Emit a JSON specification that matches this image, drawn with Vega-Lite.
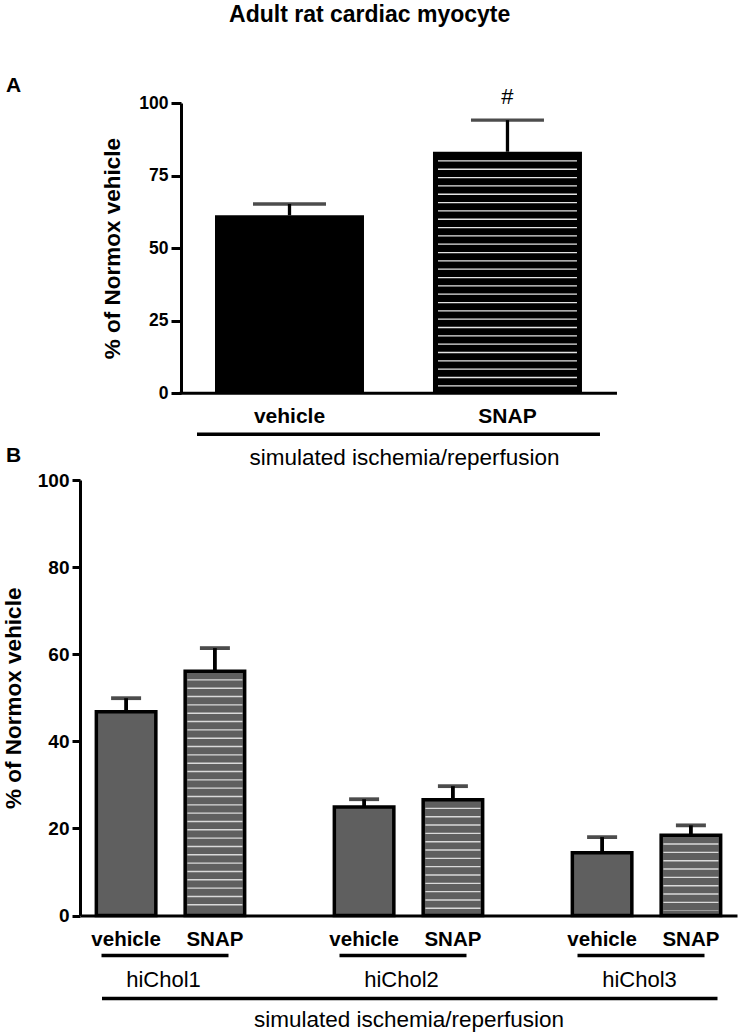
{
  "$schema": "https://vega.github.io/schema/vega-lite/v6.json",
  "padding": {"left": 2, "top": 4, "right": 2, "bottom": 2},
  "background": "white",
  "title": {"text": "Adult rat cardiac myocyte", "fontSize": 23, "fontWeight": "bold", "font": "Liberation Sans", "anchor": "middle", "color": "black", "offset": 48},
  "config": {
    "view": {"stroke": null},
    "font": "Liberation Sans",
    "axis": {"domainColor": "black", "domainWidth": 3, "tickColor": "black", "tickWidth": 3, "tickSize": 8, "labelColor": "black", "titleColor": "black", "labelFont": "Liberation Sans", "titleFont": "Liberation Sans", "grid": false}
  },
  "columns": 1,
  "spacing": -24,
  "concat": [
    {
      "width": 537,
      "height": 290.3,
      "title": {"text": "A", "anchor": "start", "frame": "group", "dx": -74, "offset": -27, "baseline": "alphabetic", "fontSize": 21, "fontWeight": "bold", "color": "black"},
      "data": {"values": [
        {"trt": "vehicle", "mean": 61.3, "upper": 65.2, "hatch": "no", "sig": ""},
        {"trt": "SNAP", "mean": 83.2, "upper": 94.1, "hatch": "yes", "sig": "#"}
      ]},
      "layer": [
        {
          "mark": {"type": "bar", "color": "black"},
          "encoding": {
            "x": {"field": "trt", "type": "nominal", "scale": {"domain": ["vehicle", "SNAP"], "paddingInner": 0.3165, "paddingOuter": 0.39, "align": 0.794},
              "axis": {"title": "simulated ischemia/reperfusion", "domain": false, "labelAngle": 0, "ticks": false, "tickSize": 0, "labelFontSize": 21, "labelFontWeight": "bold", "labelPadding": 12, "titleFontSize": 22.5, "titleFontWeight": "normal", "titlePadding": 20, "titleX": 324, "titleAlign": "center"}},
            "y": {"field": "mean", "type": "quantitative", "scale": {"domain": [0, 100]},
              "axis": {"offset": -101, "values": [0, 25, 50, 75, 100], "tickSize": 10, "title": "% of Normox vehicle", "titleFontSize": 22.5, "titleFontWeight": "bold", "labelFontSize": 17.5, "labelFontWeight": "bold", "titlePadding": 14, "labelPadding": 3}}
          }
        },
        {
          "transform": [{"filter": "datum.trt == 'vehicle'"}],
          "mark": {"type": "rule", "strokeWidth": 3, "color": "black", "xOffset": -110, "x2Offset": 109.5},
          "encoding": {
            "x": {"datum": "vehicle"},
            "x2": {"datum": "SNAP"},
            "y": {"datum": 0, "type": "quantitative"}
          }
        },
        {
          "transform": [{"filter": "datum.hatch == 'yes'"}],
          "mark": {"type": "rule", "strokeWidth": 139, "color": "#e4e4e4", "strokeDash": [1.3, 7.03], "yOffset": 8.5, "y2Offset": -6},
          "encoding": {
            "x": {"field": "trt", "type": "nominal"},
            "y": {"field": "mean", "type": "quantitative"},
            "y2": {"datum": 0}
          }
        },
        {
          "mark": {"type": "rule", "strokeWidth": 3.3, "color": "black"},
          "encoding": {
            "x": {"field": "trt", "type": "nominal"},
            "y": {"field": "mean", "type": "quantitative"},
            "y2": {"field": "upper"}
          }
        },
        {
          "mark": {"type": "tick", "size": 73, "thickness": 3.3, "color": "black"},
          "encoding": {
            "x": {"field": "trt", "type": "nominal"},
            "y": {"field": "upper", "type": "quantitative"}
          }
        },
        {
          "mark": {"type": "text", "fontSize": 22, "baseline": "alphabetic", "dy": -16, "color": "black"},
          "encoding": {
            "x": {"field": "trt", "type": "nominal"},
            "y": {"field": "upper", "type": "quantitative"},
            "text": {"field": "sig"}
          }
        },
        {
          "transform": [{"filter": "datum.trt == 'vehicle'"}],
          "mark": {"type": "rule", "strokeWidth": 3.5, "color": "black", "xOffset": -92.5, "x2Offset": 92.5, "yOffset": 41},
          "encoding": {
            "x": {"datum": "vehicle"},
            "x2": {"datum": "SNAP"},
            "y": {"datum": 0, "type": "quantitative"}
          }
        }
      ]
    },
    {
      "width": 657,
      "height": 435.5,
      "title": {"text": "B", "anchor": "start", "frame": "group", "dx": -74, "offset": -12, "baseline": "alphabetic", "fontSize": 21, "fontWeight": "bold", "color": "black"},
      "data": {"values": [
        {"grp": "hiChol1", "trt": "vehicle", "mean": 46.8, "upper": 49.9, "hatch": "no"},
        {"grp": "hiChol1", "trt": "SNAP", "mean": 56.1, "upper": 61.4, "hatch": "yes"},
        {"grp": "hiChol2", "trt": "vehicle", "mean": 24.9, "upper": 26.7, "hatch": "no"},
        {"grp": "hiChol2", "trt": "SNAP", "mean": 26.6, "upper": 29.7, "hatch": "yes"},
        {"grp": "hiChol3", "trt": "vehicle", "mean": 14.4, "upper": 18.0, "hatch": "no"},
        {"grp": "hiChol3", "trt": "SNAP", "mean": 18.4, "upper": 20.7, "hatch": "yes"}
      ]},
      "layer": [
        {
          "mark": {"type": "bar", "fill": "#5f5f5f", "stroke": "black", "strokeWidth": 3.5},
          "encoding": {
            "x": {"field": "grp", "type": "nominal", "scale": {"domain": ["hiChol1", "hiChol2", "hiChol3"], "paddingInner": 0.2395, "paddingOuter": 0},
              "axis": {"title": "simulated ischemia/reperfusion", "labelAngle": 0, "ticks": false, "tickSize": 0, "labelFontSize": 22, "labelFontWeight": "normal", "labelPadding": 54, "labelOffset": -7, "titleFontSize": 22.5, "titleFontWeight": "normal", "titlePadding": 18}},
            "xOffset": {"field": "trt", "type": "nominal", "scale": {"domain": ["vehicle", "SNAP"], "paddingInner": 0.33, "paddingOuter": 0.184}},
            "y": {"field": "mean", "type": "quantitative", "scale": {"domain": [0, 100]},
              "axis": {"values": [0, 20, 40, 60, 80, 100], "title": "% of Normox vehicle", "titleFontSize": 22.5, "titleFontWeight": "bold", "labelFontSize": 19, "labelFontWeight": "bold", "titlePadding": 12, "labelPadding": 3}}
          }
        },
        {
          "transform": [{"filter": "datum.hatch == 'yes'"}],
          "mark": {"type": "rule", "strokeWidth": 55, "color": "#d9d9d9", "strokeDash": [1.4, 6.93], "yOffset": 8, "y2Offset": -5},
          "encoding": {
            "x": {"field": "grp", "type": "nominal"},
            "xOffset": {"field": "trt", "type": "nominal"},
            "y": {"field": "mean", "type": "quantitative"},
            "y2": {"datum": 0}
          }
        },
        {
          "mark": {"type": "rule", "strokeWidth": 3.8, "color": "black"},
          "encoding": {
            "x": {"field": "grp", "type": "nominal"},
            "xOffset": {"field": "trt", "type": "nominal"},
            "y": {"field": "mean", "type": "quantitative"},
            "y2": {"field": "upper"}
          }
        },
        {
          "mark": {"type": "tick", "size": 30, "thickness": 3.8, "color": "black"},
          "encoding": {
            "x": {"field": "grp", "type": "nominal"},
            "xOffset": {"field": "trt", "type": "nominal"},
            "y": {"field": "upper", "type": "quantitative"}
          }
        },
        {
          "mark": {"type": "text", "fontSize": 20.5, "fontWeight": "bold", "baseline": "middle", "dy": 24, "color": "black"},
          "encoding": {
            "x": {"field": "grp", "type": "nominal"},
            "xOffset": {"field": "trt", "type": "nominal"},
            "y": {"datum": 0, "type": "quantitative"},
            "text": {"field": "trt"}
          }
        },
        {
          "transform": [{"filter": "datum.trt == 'vehicle'"}],
          "mark": {"type": "rule", "strokeWidth": 3.5, "color": "black", "xOffset": -69, "x2Offset": 58, "yOffset": 40},
          "encoding": {
            "x": {"field": "grp", "type": "nominal"},
            "x2": {"field": "grp"},
            "y": {"datum": 0, "type": "quantitative"}
          }
        },
        {
          "transform": [{"filter": "datum.trt == 'vehicle' && datum.grp == 'hiChol1'"}],
          "mark": {"type": "rule", "strokeWidth": 3.5, "color": "black", "xOffset": -68.5, "x2Offset": 71, "yOffset": 83},
          "encoding": {
            "x": {"datum": "hiChol1"},
            "x2": {"datum": "hiChol3"},
            "y": {"datum": 0, "type": "quantitative"}
          }
        }
      ]
    }
  ]
}
